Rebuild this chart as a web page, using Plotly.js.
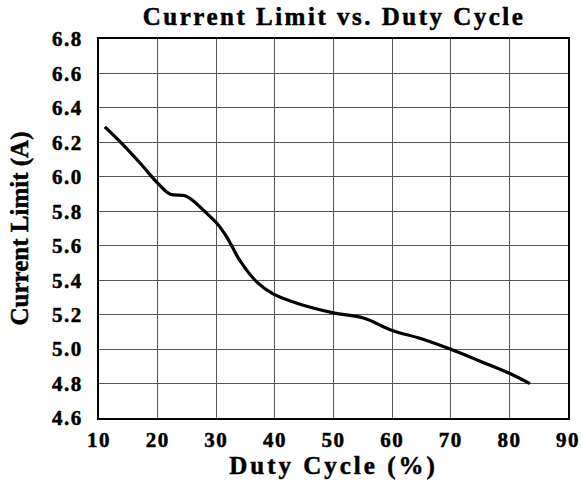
<!DOCTYPE html>
<html><head><meta charset="utf-8">
<script src="https://cdn.plot.ly/plotly-3.0.1.min.js"></script>
<style>
html,body{margin:0;padding:0;background:#fff}#c{width:581px;height:485px}
.gtitle{letter-spacing:2.5px}
.xtitle{letter-spacing:3px}
.xtick text,.ytick text{letter-spacing:1.5px}
.gtitle,.xtitle,.ytitle,.xtick text,.ytick text{stroke:#000;stroke-width:0.5px}
</style>
</head><body><div id="c"></div>
<script>
const dutyCycle = [11, 14, 17, 20.1, 22.1, 24.7, 26.1, 28, 30.1, 31.8, 34.1, 36.9, 39.7, 44.3, 50.0, 55.1, 59.9, 65, 69.9, 75, 80, 83.5];
const currentLimit = [6.29, 6.19, 6.08, 5.96, 5.90, 5.89, 5.86, 5.80, 5.73, 5.65, 5.51, 5.39, 5.32, 5.26, 5.21, 5.18, 5.11, 5.06, 5.00, 4.93, 4.86, 4.80];
const xTicks = [10, 20, 30, 40, 50, 60, 70, 80, 90];
const yTicks = [4.6, 4.8, 5.0, 5.2, 5.4, 5.6, 5.8, 6.0, 6.2, 6.4, 6.6, 6.8];
const font = 'Liberation Serif, Times New Roman, serif';
Plotly.newPlot('c', [{
  x: dutyCycle, y: currentLimit, mode: 'lines', type: 'scatter',
  line: {color: '#000', width: 3.2, shape: 'spline', smoothing: 1}
}], {
  width: 581, height: 485,
  margin: {l: 99, r: 13, t: 39, b: 67},
  paper_bgcolor: '#fff', plot_bgcolor: '#fff',
  showlegend: false,
  title: {text: '<b>Current Limit vs. Duty Cycle</b>', font: {family: font, size: 25, color: '#000'}, x: 0.575, xanchor: 'center', y: 0.984, yanchor: 'top'},
  xaxis: {range: [10, 90], tickvals: xTicks, ticktext: xTicks.map(v => '<b>' + v + '</b>'),
    showgrid: true, gridcolor: '#555', gridwidth: 1, zeroline: false,
    showline: true, linecolor: '#000', linewidth: 2, mirror: true, ticks: '',
    ticklabelstandoff: 2,
    tickfont: {family: font, size: 21, color: '#000'},
    title: {text: '<b>Duty Cycle (%)</b>', font: {family: font, size: 25, color: '#000'}, standoff: 0}},
  yaxis: {range: [4.6, 6.8], tickvals: yTicks, ticktext: yTicks.map(v => '<b>' + v.toFixed(1) + '</b>'),
    showgrid: true, gridcolor: '#555', gridwidth: 1, zeroline: false,
    showline: true, linecolor: '#000', linewidth: 2, mirror: true, ticks: '',
    ticklabelstandoff: 10,
    tickfont: {family: font, size: 21, color: '#000'},
    title: {text: '<b>Current Limit (A)</b>', font: {family: font, size: 25, color: '#000'}, standoff: 16}}
}, {displayModeBar: false});
</script></body></html>
